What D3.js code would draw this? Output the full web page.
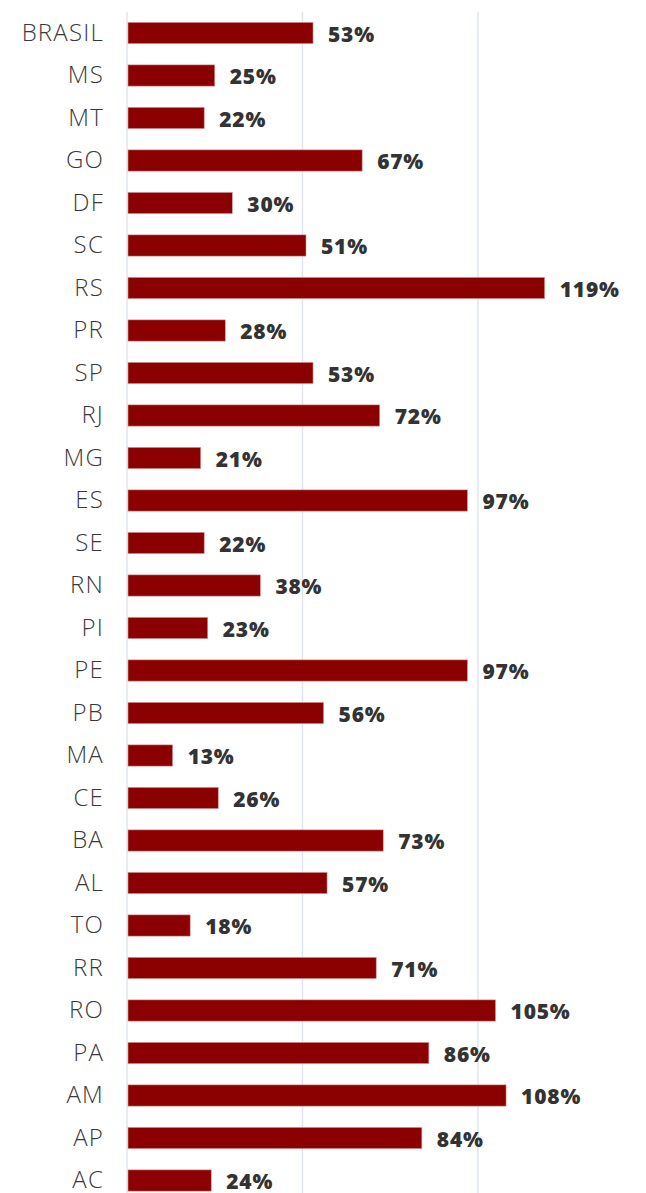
<!DOCTYPE html>
<html>
<head>
<meta charset="utf-8">
<script src="https://cdn.jsdelivr.net/npm/d3@7"></script>
<style>
  body { margin: 0; background: #fff; }
</style>
</head>
<body>
<div id="chart"></div>
<script>
var states = ["BRASIL", "MS", "MT", "GO", "DF", "SC", "RS", "PR", "SP", "RJ", "MG", "ES", "SE", "RN",
  "PI", "PE", "PB", "MA", "CE", "BA", "AL", "TO", "RR", "RO", "PA", "AM", "AP", "AC"];
var values = [53, 25, 22, 67, 30, 51, 119, 28, 53, 72, 21, 97, 22, 38,
  23, 97, 56, 13, 26, 73, 57, 18, 71, 105, 86, 108, 84, 24];
var gridTicks = [0, 50, 100, 150];

var width = 646, height = 1193;

var svg = d3.select("#chart").append("svg")
  .attr("width", width)
  .attr("height", height);

// horizontal scale: 0% sits at x=127, ~3.51px per point
var x = d3.scaleLinear()
  .domain([0, 150])
  .range([127, 653.5]);

var y = d3.scaleBand()
  .domain(states)
  .range([11.75, 11.75 + states.length * 42.5])
  .paddingInner(0.5)
  .paddingOuter(0.25);

// vertical grid lines
svg.append("g").selectAll("line")
  .data(gridTicks)
  .enter().append("line")
  .attr("x1", function (d) { return x(d); })
  .attr("x2", function (d) { return x(d); })
  .attr("y1", 12)
  .attr("y2", height)
  .style("stroke", "#dfe5ee")
  .style("stroke-width", 1.5);

// bars
svg.append("g").selectAll("rect")
  .data(values)
  .enter().append("rect")
  .attr("x", x(0) + 1)
  .attr("y", function (d, i) { return y(states[i]); })
  .attr("width", function (d) { return x(d) - x(0) - 1; })
  .attr("height", y.bandwidth())
  .style("fill", "#8b0000")
  .style("stroke", "#d99a9a")
  .style("stroke-width", 0.6);

// state labels
svg.append("g").selectAll("text")
  .data(states)
  .enter().append("text")
  .attr("x", 104)
  .attr("y", function (d) { return y(d) + y.bandwidth() / 2 - 1; })
  .attr("dy", "0.36em")
  .attr("text-anchor", "end")
  .style("font-family", "'Open Sans', sans-serif")
  .style("font-weight", 300)
  .style("font-size", "24px")
  .style("letter-spacing", "1.2px")
  .style("fill", "#3a3a3a")
  .text(function (d) { return d; });

// value labels
svg.append("g").selectAll("text")
  .data(values)
  .enter().append("text")
  .attr("x", function (d) { return x(d) + 15; })
  .attr("y", function (d, i) { return y(states[i]) + y.bandwidth() / 2 + 1; })
  .attr("dy", "0.36em")
  .style("font-family", "'Open Sans', sans-serif")
  .style("font-weight", 800)
  .style("font-size", "21px")
  .style("letter-spacing", "0.8px")
  .style("fill", "#333")
  .text(function (d) { return d + "%"; });
</script>
</body>
</html>
